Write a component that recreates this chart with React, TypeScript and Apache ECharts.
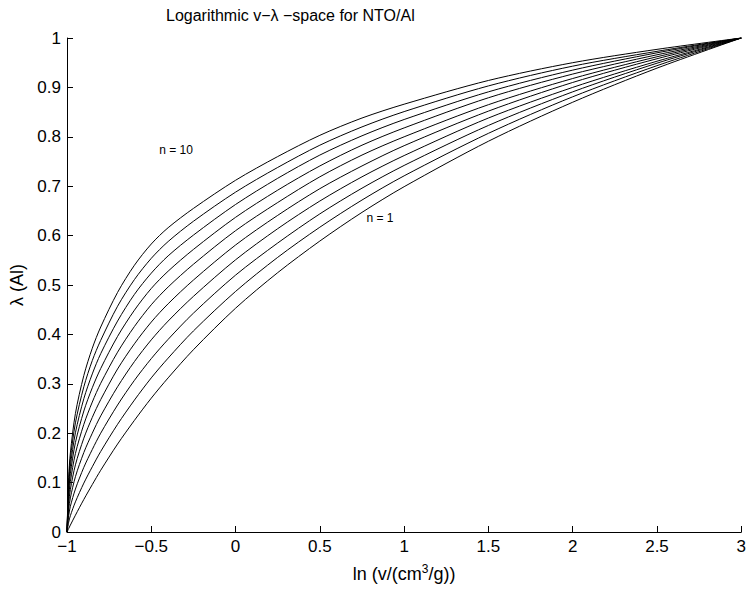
import React, { useEffect, useRef } from "react";
import * as echarts from "echarts";

// x positions (ln v) at which each curve was read
const xs = [-1, -0.99, -0.98, -0.95, -0.9, -0.85, -0.8, -0.7, -0.6, -0.5, -0.4, -0.25, 0, 0.25, 0.5, 0.75, 1, 1.5, 2, 2.5, 3];

// λ(Al) values, curve n = 1 ... n = 10
const n1 = [0, 0.007, 0.014, 0.034, 0.066, 0.096, 0.125, 0.178, 0.226, 0.271, 0.312, 0.369, 0.453, 0.525, 0.589, 0.647, 0.699, 0.791, 0.87, 0.939, 1];
const n2 = [0, 0.02, 0.033, 0.061, 0.099, 0.132, 0.163, 0.218, 0.267, 0.312, 0.352, 0.407, 0.487, 0.556, 0.617, 0.672, 0.721, 0.807, 0.881, 0.944, 1];
const n3 = [0, 0.033, 0.052, 0.087, 0.131, 0.167, 0.2, 0.257, 0.307, 0.351, 0.39, 0.443, 0.52, 0.585, 0.644, 0.696, 0.742, 0.823, 0.891, 0.949, 1];
const n4 = [0, 0.046, 0.069, 0.112, 0.161, 0.2, 0.235, 0.294, 0.345, 0.389, 0.427, 0.477, 0.551, 0.614, 0.67, 0.719, 0.762, 0.838, 0.9, 0.953, 1];
const n5 = [0, 0.058, 0.086, 0.136, 0.19, 0.232, 0.268, 0.33, 0.381, 0.425, 0.462, 0.51, 0.581, 0.641, 0.695, 0.741, 0.782, 0.852, 0.91, 0.958, 1];
const n6 = [0, 0.069, 0.102, 0.159, 0.218, 0.263, 0.301, 0.364, 0.416, 0.46, 0.496, 0.542, 0.61, 0.667, 0.719, 0.763, 0.8, 0.865, 0.918, 0.962, 1];
const n7 = [0, 0.08, 0.118, 0.181, 0.245, 0.292, 0.331, 0.396, 0.449, 0.493, 0.528, 0.572, 0.637, 0.692, 0.741, 0.783, 0.818, 0.879, 0.927, 0.966, 1];
const n8 = [0, 0.091, 0.133, 0.201, 0.27, 0.32, 0.361, 0.427, 0.481, 0.524, 0.559, 0.601, 0.663, 0.716, 0.763, 0.802, 0.835, 0.891, 0.935, 0.97, 1];
const n9 = [0, 0.1, 0.147, 0.221, 0.294, 0.347, 0.388, 0.457, 0.511, 0.554, 0.588, 0.629, 0.688, 0.738, 0.783, 0.82, 0.851, 0.903, 0.943, 0.973, 1];
const n10 = [0, 0.11, 0.16, 0.24, 0.317, 0.372, 0.415, 0.485, 0.54, 0.583, 0.616, 0.655, 0.712, 0.76, 0.803, 0.838, 0.866, 0.914, 0.95, 0.977, 1];

const curves = [n1, n2, n3, n4, n5, n6, n7, n8, n9, n10];

const titleText = "Logarithmic v\u2212\u03bb \u2212space for NTO/Al";
const xName = "{a|ln (v/(cm}{s|3}{a|/g))}";
const yName = "\u03bb (Al)";
const labelTop = "n = 10";
const labelBottom = "n = 1";

const FONT = "'Liberation Sans', Arial, Helvetica, sans-serif";

export default function App() {
  const ref = useRef<HTMLDivElement>(null);

  useEffect(() => {
    if (!ref.current) return;
    const chart = echarts.init(ref.current, undefined, { renderer: "svg" });
    const fmt = (v: number) => String(v).replace("-", "\u2212");
    chart.setOption({
      animation: false,
      backgroundColor: "#ffffff",
      textStyle: { fontFamily: FONT },
      title: {
        text: titleText,
        left: 161,
        top: 2,
        textStyle: { fontFamily: FONT, fontSize: 16, fontWeight: "normal", color: "#000" },
      },
      grid: { left: 67, right: 7, top: 38, bottom: 53, containLabel: false },
      xAxis: {
        type: "value",
        min: -1,
        max: 3,
        interval: 0.5,
        name: xName,
        nameLocation: "middle",
        nameGap: 31,
        nameTextStyle: {
          fontFamily: FONT,
          fontSize: 18,
          color: "#000",
          rich: {
            a: { fontFamily: FONT, fontSize: 18, color: "#000", lineHeight: 22 },
            s: { fontFamily: FONT, fontSize: 12, color: "#000", lineHeight: 22, padding: [0, 0, 10, 0] },
          },
        },
        axisLine: { onZero: false, lineStyle: { color: "#000", width: 1 } },
        axisTick: { inside: true, length: 6, lineStyle: { color: "#000" } },
        axisLabel: { formatter: fmt, color: "#000", fontSize: 17, margin: 6, fontFamily: FONT },
        splitLine: { show: false },
      },
      yAxis: {
        type: "value",
        min: 0,
        max: 1,
        interval: 0.1,
        name: yName,
        nameLocation: "middle",
        nameGap: 36,
        nameRotate: 90,
        nameTextStyle: { fontFamily: FONT, fontSize: 18, color: "#000" },
        axisLine: { show: true, onZero: false, lineStyle: { color: "#000", width: 1 } },
        axisTick: { show: true, inside: true, length: 6, lineStyle: { color: "#000" } },
        axisLabel: { formatter: fmt, color: "#000", fontSize: 17, margin: 6, fontFamily: FONT },
        splitLine: { show: false },
      },
      graphic: [
        {
          type: "text",
          x: 176,
          y: 150,
          style: {
            text: labelTop,
            font: "12px 'Liberation Sans', Arial, sans-serif",
            fill: "#000",
            align: "center",
            verticalAlign: "middle",
          },
        },
        {
          type: "text",
          x: 380,
          y: 218,
          style: {
            text: labelBottom,
            font: "12px 'Liberation Sans', Arial, sans-serif",
            fill: "#000",
            align: "center",
            verticalAlign: "middle",
          },
        },
      ],
      series: curves.map((c, i) => ({
        name: "n = " + (i + 1),
        type: "line",
        data: xs.map((x, j) => [x, c[j]]),
        showSymbol: false,
        symbol: "none",
        smooth: 0.3,
        lineStyle: { color: "#000", width: 1 },
      })),
    });
    return () => chart.dispose();
  }, []);

  return (
    <div
      ref={ref}
      style={{ position: "fixed", left: 0, top: 0, width: 749, height: 590, background: "#fff" }}
    />
  );
}
